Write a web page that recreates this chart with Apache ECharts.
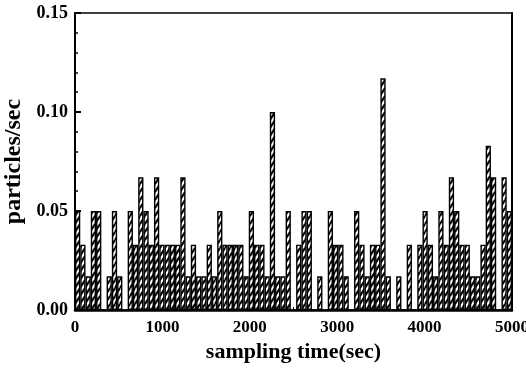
<!DOCTYPE html>
<html>
<head>
<meta charset="utf-8">
<title>particles/sec</title>
<script src="https://cdn.jsdelivr.net/npm/echarts@6/dist/echarts.min.js"></script>
<style>
  html, body { margin: 0; padding: 0; background: #fff; }
  #chart { width: 526px; height: 374px; }
</style>
</head>
<body>
<div id="chart"></div>
<script>
// 60 s bins starting at 0 s
var binStart = [
  0, 60, 120, 180, 240, 300, 360, 420, 480, 540,
  600, 660, 720, 780, 840, 900, 960, 1020, 1080, 1140,
  1200, 1260, 1320, 1380, 1440, 1500, 1560, 1620, 1680, 1740,
  1800, 1860, 1920, 1980, 2040, 2100, 2160, 2220, 2280, 2340,
  2400, 2460, 2520, 2580, 2640, 2700, 2760, 2820, 2880, 2940,
  3000, 3060, 3120, 3180, 3240, 3300, 3360, 3420, 3480, 3540,
  3600, 3660, 3720, 3780, 3840, 3900, 3960, 4020, 4080, 4140,
  4200, 4260, 4320, 4380, 4440, 4500, 4560, 4620, 4680, 4740,
  4800, 4860, 4920
]
// particles/sec in each bin
var rate = [
  0.05, 0.033, 0.017, 0.05, 0.05, 0, 0.017, 0.05, 0.017, 0,
  0.05, 0.033, 0.067, 0.05, 0.033, 0.067, 0.033, 0.033, 0.033, 0.033,
  0.067, 0.017, 0.033, 0.017, 0.017, 0.033, 0.017, 0.05, 0.033, 0.033,
  0.033, 0.033, 0.017, 0.05, 0.033, 0.033, 0.017, 0.1, 0.017, 0.017,
  0.05, 0, 0.033, 0.05, 0.05, 0, 0.017, 0, 0.05, 0.033,
  0.033, 0.017, 0, 0.05, 0.033, 0.017, 0.033, 0.033, 0.117, 0.017,
  0, 0.017, 0, 0.033, 0, 0.033, 0.05, 0.033, 0.017, 0.05,
  0.033, 0.067, 0.05, 0.033, 0.033, 0.017, 0.017, 0.033, 0.083, 0.067,
  0, 0.067, 0.05
]
var yTicks = [0, 0.05, 0.1, 0.15]
var xTicks = [0, 1000, 2000, 3000, 4000, 5000]

var FONT = '"Liberation Serif", "DejaVu Serif", serif'

// hatch fill  ////
function hatch() {
  var c = document.createElement('canvas')
  var w = 5, h = 8
  c.width = w
  c.height = h
  var ctx = c.getContext('2d')
  ctx.fillStyle = '#fff'
  ctx.fillRect(0, 0, w, h)
  ctx.strokeStyle = '#000'
  ctx.lineWidth = 2
  ctx.beginPath()
  ctx.moveTo(0, h); ctx.lineTo(w, 0)
  ctx.moveTo(-w, h); ctx.lineTo(0, 0)
  ctx.moveTo(w, h); ctx.lineTo(2 * w, 0)
  ctx.stroke()
  return c
}

var chart = echarts.init(document.getElementById('chart'))
chart.setOption({
  animation: false,
  backgroundColor: '#fff',
  grid: { left: 75, right: 14, top: 13, bottom: 64, outerBoundsMode: 'none', containLabel: false },
  xAxis: [
    {
      type: 'category',
      position: 'top',
      data: binStart,
      boundaryGap: true,
      axisLine: { show: true, onZero: false, lineStyle: { color: '#000', width: 1.5 } },
      axisTick: { show: false },
      axisLabel: { show: false },
      splitLine: { show: false }
    },
    {
      type: 'value',
      position: 'bottom',
      min: xTicks[0],
      max: xTicks[xTicks.length - 1],
      interval: 1000,
      name: 'sampling time(sec)',
      nameLocation: 'middle',
      nameGap: 29,
      nameTextStyle: { fontFamily: FONT, fontWeight: 'bold', fontSize: 22, color: '#000' },
      axisLine: { onZero: false, lineStyle: { color: '#000', width: 2.5 } },
      axisTick: { inside: true, length: 5, lineStyle: { color: '#000', width: 1.5 } },
      minorTick: { show: true, splitNumber: 2, length: 3, lineStyle: { color: '#000' } },
      axisLabel: {
        fontFamily: FONT, fontWeight: 'bold', fontSize: 17, color: '#000', margin: 9,
        formatter: function (v) { return String(v) }
      },
      splitLine: { show: false }
    }
  ],
  yAxis: [
    {
      type: 'value',
      min: yTicks[0],
      max: yTicks[yTicks.length - 1],
      interval: 0.05,
      name: 'particles/sec',
      nameLocation: 'middle',
      nameGap: 48,
      nameTextStyle: { fontFamily: FONT, fontWeight: 'bold', fontSize: 24, color: '#000' },
      axisLine: { show: true, onZero: false, lineStyle: { color: '#000', width: 2 } },
      axisTick: { inside: true, length: 6, lineStyle: { color: '#000', width: 2 } },
      minorTick: { show: true, splitNumber: 5, length: 3, lineStyle: { color: '#000', width: 1.5 } },
      axisLabel: {
        fontFamily: FONT, fontWeight: 'bold', fontSize: 18, color: '#000', margin: 7,
        formatter: function (v) { return v.toFixed(2) }
      },
      splitLine: { show: false }
    },
    {
      type: 'value',
      position: 'right',
      min: yTicks[0],
      max: yTicks[yTicks.length - 1],
      axisLine: { show: true, onZero: false, lineStyle: { color: '#000', width: 2 } },
      axisTick: { show: false },
      axisLabel: { show: false },
      splitLine: { show: false }
    }
  ],
  series: [
    {
      type: 'bar',
      xAxisIndex: 0,
      yAxisIndex: 0,
      data: rate,
      barCategoryGap: '0%',
      itemStyle: {
        color: { image: hatch(), repeat: 'repeat' },
        borderColor: '#000',
        borderWidth: 1.4
      }
    }
  ]
})
</script>
</body>
</html>
